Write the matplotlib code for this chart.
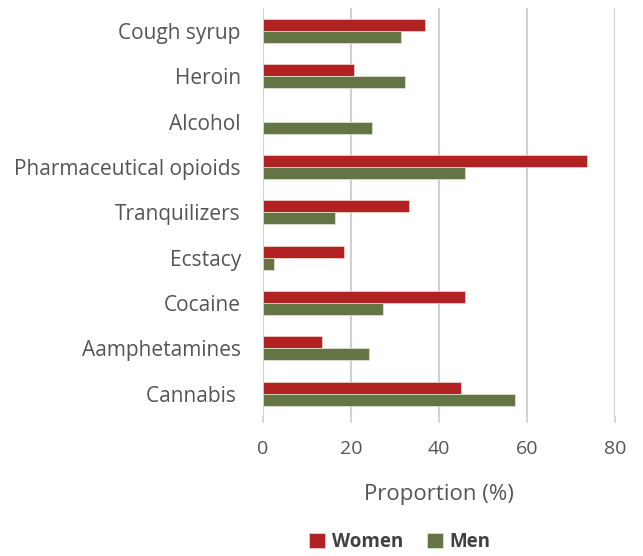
import matplotlib.pyplot as plt
import numpy as np

substances = ["Cough syrup", "Heroin", "Alcohol", "Pharmaceutical opioids",
              "Tranquilizers", "Ecstacy", "Cocaine", "Aamphetamines", "Cannabis "]
women = [36.8, 20.8, 0, 73.8, 33.2, 18.5, 45.9, 13.5, 45.0]
men = [31.3, 32.2, 24.9, 45.9, 16.3, 2.5, 27.2, 24.0, 57.3]

plt.rcParams['font.family'] = ['Open Sans', 'DejaVu Sans']

fig = plt.figure(figsize=(6.43, 5.56), dpi=100)
ax = fig.add_axes([0.409, 0.251, 0.547, 0.734])

y = np.arange(len(substances))
h = 0.265
ax.barh(y - h / 2, women, height=h, color='#b22222', label='Women',
        edgecolor='#f2dcdc', linewidth=0.5, zorder=3)
ax.barh(y + h / 2, men, height=h, color='#647444', label='Men',
        edgecolor='#e4e8dc', linewidth=0.5, zorder=3)

ax.set_ylim(len(substances) - 0.5, -0.5)
ax.set_xlim(0, 80)
ax.set_xticks([0, 20, 40, 60, 80])
ax.set_yticks(y)
ax.set_yticklabels(substances, fontsize=15, color='#555555', va='center_baseline')
ax.tick_params(axis='y', length=0, pad=16)
ax.tick_params(axis='x', length=5, width=1.2, color='#d0d0d0', pad=12,
               labelsize=14, labelcolor='#555555')
ax.grid(axis='x', color='#d0d0d0', linewidth=1.5, zorder=0)
for s in ax.spines.values():
    s.set_visible(False)

ax.set_xlabel("Proportion (%)", fontsize=16, color='#555555', labelpad=19)

fig.legend(loc='center', bbox_to_anchor=(0.622, 0.025), ncol=2, frameon=False,
           prop={'weight': 'bold', 'size': 13.5}, labelcolor='#404040',
           handlelength=0.85, handleheight=0.85, handletextpad=0.35, columnspacing=1.3)

plt.savefig("out.png", dpi=100)
